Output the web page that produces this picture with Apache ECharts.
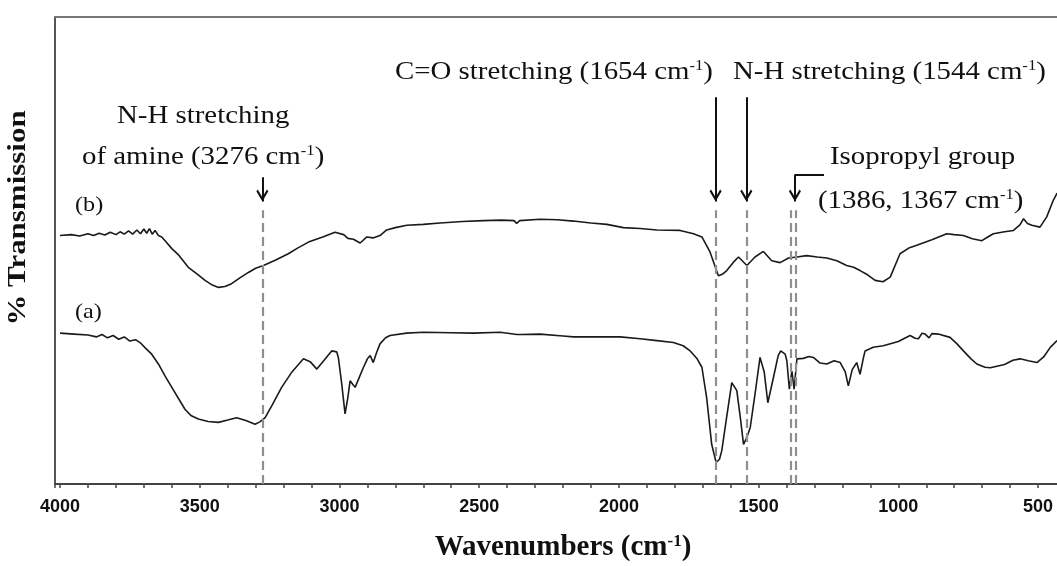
<!DOCTYPE html>
<html><head><meta charset="utf-8">
<script src="https://cdn.jsdelivr.net/npm/echarts@6/dist/echarts.min.js"></script>
<style>html,body{margin:0;padding:0;background:#fff}#c{width:1057px;height:566px}</style>
</head><body><div id="c"></div>
<script>
// ---- data (wavenumber cm-1, % transmission arbitrary units) ----
const specA = [[4000,32.3],[3950,32.1],[3900,31.9],[3870,31.5],[3850,32.0],[3830,31.3],[3810,31.8],[3790,31.0],[3770,31.5],[3750,30.6],[3730,30.9],[3710,30.1],[3696,29.2],[3672,27.8],[3648,25.7],[3625,23.2],[3600,20.7],[3575,18.2],[3553,16.0],[3530,14.6],[3505,13.9],[3470,13.4],[3433,13.2],[3400,13.7],[3368,14.2],[3335,13.6],[3302,12.8],[3285,13.3],[3266,14.2],[3240,17.0],[3207,20.7],[3170,24.0],[3129,26.8],[3105,26.2],[3081,24.6],[3055,26.5],[3028,28.5],[3010,28.3],[3004,27.1],[2992,21.5],[2980,15.0],[2970,18.5],[2962,22.1],[2952,21.3],[2944,20.7],[2928,23.0],[2914,25.0],[2900,26.8],[2890,27.5],[2879,26.0],[2868,28.0],[2855,30.0],[2835,31.3],[2819,31.8],[2760,32.3],[2700,32.5],[2600,32.4],[2521,32.3],[2425,32.5],[2365,32.0],[2360,31.7],[2350,32.0],[2282,32.1],[2200,31.7],[2163,31.5],[2080,31.5],[1996,31.5],[1924,31.1],[1864,30.7],[1805,30.3],[1770,29.6],[1745,28.5],[1720,26.8],[1703,25.0],[1686,18.5],[1668,8.5],[1652,4.6],[1640,5.3],[1632,7.1],[1614,14.5],[1596,21.7],[1578,20.0],[1565,14.0],[1554,8.5],[1542,10.0],[1530,12.1],[1510,20.5],[1495,27.1],[1480,24.0],[1467,17.4],[1447,22.8],[1430,27.5],[1421,28.5],[1405,27.8],[1399,26.4],[1390,20.3],[1381,24.2],[1373,20.3],[1363,26.8],[1340,26.9],[1320,27.3],[1304,27.1],[1280,25.9],[1256,25.7],[1230,26.4],[1208,26.0],[1190,24.0],[1179,21.0],[1165,24.5],[1149,26.0],[1137,23.5],[1125,27.0],[1119,28.5],[1090,29.3],[1054,29.6],[1000,30.5],[958,31.8],[940,31.2],[928,31.1],[915,32.3],[904,32.1],[890,31.3],[880,32.2],[857,32.1],[815,31.4],[790,30.0],[767,28.5],[740,26.8],[719,25.7],[690,25.0],[671,24.9],[620,25.6],[590,26.5],[564,26.8],[535,26.4],[504,26.0],[480,27.2],[457,29.2],[432,30.7]];

const specB = [[4000,53.2],[3960,53.4],[3930,53.1],[3900,53.6],[3880,53.2],[3860,53.7],[3840,53.3],[3820,53.9],[3800,53.4],[3785,54.0],[3770,53.5],[3755,54.2],[3740,53.5],[3725,54.4],[3712,53.6],[3700,54.6],[3690,53.7],[3680,54.7],[3670,53.5],[3660,54.3],[3648,53.2],[3636,52.9],[3624,52.1],[3600,50.4],[3575,49.0],[3541,46.4],[3510,45.0],[3481,43.6],[3455,42.6],[3433,42.1],[3410,42.3],[3386,42.9],[3355,44.2],[3326,45.3],[3300,46.2],[3272,46.8],[3230,47.9],[3183,49.3],[3150,50.5],[3111,51.8],[3060,52.9],[3016,53.9],[2985,53.4],[2970,52.6],[2950,52.4],[2926,51.6],[2902,52.9],[2880,52.7],[2855,53.2],[2831,54.4],[2800,54.9],[2759,55.4],[2700,55.6],[2640,55.9],[2560,56.2],[2485,56.4],[2420,56.5],[2375,56.4],[2366,55.8],[2355,56.4],[2282,56.7],[2220,56.6],[2163,56.3],[2100,55.9],[2043,55.6],[1984,54.9],[1924,54.7],[1864,54.4],[1781,54.3],[1733,53.6],[1703,52.9],[1674,49.7],[1644,44.6],[1630,44.9],[1614,45.7],[1590,47.5],[1572,48.6],[1542,46.8],[1513,48.6],[1483,49.8],[1453,47.8],[1423,47.4],[1393,48.4],[1363,48.6],[1328,48.9],[1290,48.6],[1256,48.4],[1220,47.8],[1185,46.8],[1160,46.4],[1137,45.7],[1110,44.8],[1083,43.6],[1055,43.3],[1029,44.3],[994,49.3],[960,50.6],[934,51.1],[880,52.3],[827,53.6],[800,53.4],[767,53.2],[735,52.5],[701,52.1],[680,52.9],[660,53.6],[620,54.0],[588,54.3],[565,55.5],[552,56.8],[538,55.8],[522,55.4],[493,55.0],[469,57.2],[445,60.8],[432,62.3]];

const peakLines = [3276, 1654, 1544, 1386, 1367];
const tickLabels = [4000, 3500, 3000, 2500, 2000, 1500, 1000, 500];

// annotation arrows: [wavenumber, from value, to value]
const arrowDown = [[3276, 65.7, 60.5], [1654, 82.8, 60.5], [1544, 82.8, 60.5], [1370, 66.3, 60.5]];
const isoBar = [[1266, 66.3], [1370, 66.3]];
const dashTop = 58.6;

// ---- chart ----
const chart = echarts.init(document.getElementById('c'), null, {renderer: 'canvas'});
const serif = '"Liberation Serif","Times New Roman",serif';
const chevron = 'path://M50,0L100,64L88,76L50,26L12,76L0,64Z M50,-76L50,-76Z';

const dashData = peakLines.map(w => [{coord: [w, 0]}, {coord: [w, dashTop]}]);
const arrowData = arrowDown.map(a => [
  {coord: [a[0], a[1]], symbol: 'none'},
  {coord: [a[0], a[2]], symbol: chevron, symbolSize: [12, 24]}
]);
arrowData.push([{coord: isoBar[0], symbol: 'none'}, {coord: isoBar[1], symbol: 'none'}]);

function rich(base, size) {
  return {
    n: {fontFamily: serif, fontSize: size, fill: '#111', fontWeight: base},
    s: {fontFamily: serif, fontSize: Math.round(size * 0.58), fill: '#111', fontWeight: base, verticalAlign: 'top'}
  };
}
function txt(x, y, text, opts) {
  opts = opts || {};
  const size = opts.size || 26;
  return {
    type: 'text', x: x, y: y, scaleX: opts.scale || 1.11, rotation: opts.rotation || 0,
    silent: true, z: 100,
    style: {
      text: text, rich: rich(opts.weight || 'normal', size),
      fontFamily: serif, fontSize: size, fill: '#111',
      align: opts.align || 'left', verticalAlign: 'middle',
      textAlign: opts.align || 'left', textVerticalAlign: 'middle'
    }
  };
}

const option = {
  animation: false,
  backgroundColor: '#fff',
  grid: {left: 55, top: 17, width: 1011, height: 467, containLabel: false, outerBoundsMode: 'none'},
  xAxis: [{
    type: 'value', inverse: true, min: 400, max: 4018, interval: 100,
    axisLine: {show: true, lineStyle: {color: '#444', width: 2}},
    axisTick: {show: true, inside: false, length: 4, lineStyle: {color: '#444', width: 1.5}},
    axisLabel: {
      margin: 14, fontSize: 18, fontWeight: 'bold', color: '#111',
      fontFamily: '"Liberation Sans", Arial, sans-serif',
      showMinLabel: true, showMaxLabel: true,
      formatter: v => tickLabels.indexOf(v) >= 0 ? String(v) : ''
    },
    splitLine: {show: false}
  }, {
    type: 'value', position: 'top', inverse: true, min: 400, max: 4018,
    axisLine: {show: true, onZero: false, lineStyle: {color: '#777', width: 2}},
    axisTick: {show: false}, axisLabel: {show: false}, splitLine: {show: false}
  }],
  yAxis: {
    type: 'value', min: 0, max: 100,
    axisLine: {show: true, lineStyle: {color: '#555', width: 2}},
    axisTick: {show: false}, axisLabel: {show: false}, splitLine: {show: false}
  },
  series: [{
    name: '(a)', type: 'line', data: specA, showSymbol: false, symbol: 'none',
    lineStyle: {color: '#1a1a1a', width: 1.6}, z: 3,
    markLine: {
      silent: true, symbol: 'none', animation: false, label: {show: false},
      lineStyle: {color: '#8f8f8f', width: 2.2, type: [9, 5]},
      data: dashData
    }
  }, {
    name: '(b)', type: 'line', data: specB, showSymbol: false, symbol: 'none',
    lineStyle: {color: '#1a1a1a', width: 1.6}, z: 3,
    markLine: {
      silent: true, animation: false, label: {show: false},
      symbol: ['none', 'none'],
      lineStyle: {color: '#111', width: 2, type: 'solid'},
      itemStyle: {color: '#111'},
      emphasis: {disabled: true},
      data: arrowData
    }
  }],
  graphic: [
    txt(117, 116, '{n|N-H stretching}'),
    txt(82, 157, '{n|of amine (3276 cm}{s|-1}{n|)}'),
    txt(395, 72, '{n|C=O stretching (1654 cm}{s|-1}{n|)}'),
    txt(733, 72, '{n|N-H stretching (1544 cm}{s|-1}{n|)}'),
    txt(830, 157, '{n|Isopropyl group}'),
    txt(818, 201, '{n|(1386, 1367 cm}{s|-1}{n|)}'),
    txt(75, 205, '{n|(b)}', {size: 22, scale: 1.1}),
    txt(75, 312, '{n|(a)}', {size: 22, scale: 1.1}),
    txt(18, 218, '{n|% Transmission}', {size: 26, scale: 1.19, weight: 'bold', align: 'center', rotation: Math.PI / 2}),
    txt(563, 548, '{n|Wavenumbers (cm}{s|-1}{n|)}', {size: 29, scale: 1.0, weight: 'bold', align: 'center'})
  ]
};
chart.setOption(option);
</script>
</body></html>
